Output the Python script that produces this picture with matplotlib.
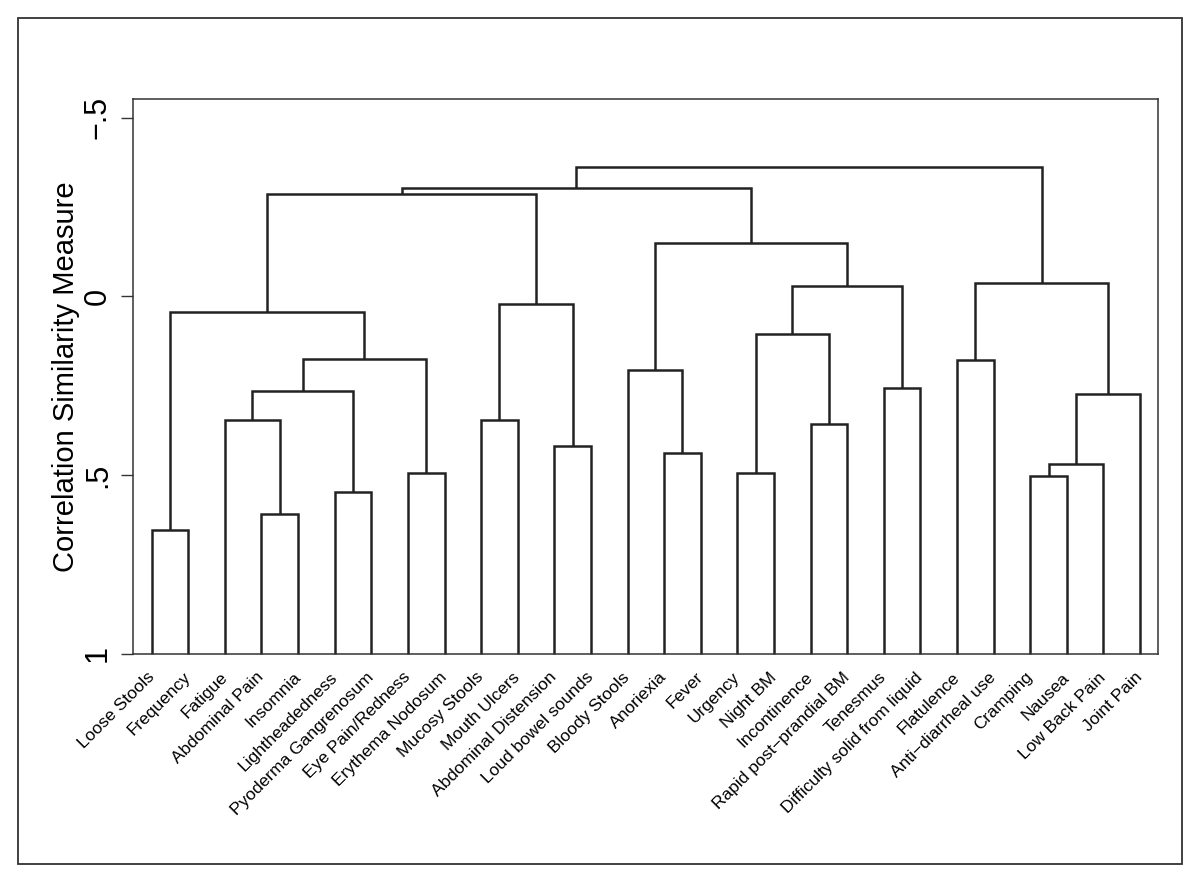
import numpy as np
import matplotlib
matplotlib.use("Agg")
import matplotlib.pyplot as plt
from matplotlib.patches import Rectangle

plt.rcParams['font.family'] = ['Liberation Sans', 'DejaVu Sans']

# leaves, in the order they appear on the axis
leaves = ["Loose Stools", "Frequency", "Fatigue", "Abdominal Pain", "Insomnia",
          "Lightheadedness", "Pyoderma Gangrenosum", "Eye Pain/Redness",
          "Erythema Nodosum", "Mucosy Stools", "Mouth Ulcers", "Abdominal Distension",
          "Loud bowel sounds", "Bloody Stools", "Anoriexia", "Fever", "Urgency",
          "Night BM", "Incontinence", "Rapid post\u2212prandial BM", "Tenesmus",
          "Difficulty solid from liquid", "Flatulence", "Anti\u2212diarrheal use",
          "Cramping", "Nausea", "Low Back Pain", "Joint Pain"]

# merges: (node a, node b, similarity height); new node ids start at len(leaves)
merge_a = [0, 3, 2, 5, 30, 7, 32, 28, 9, 11, 36, 35, 14, 13, 16, 18, 42, 20, 44, 41, 39,
           22, 24, 50, 51, 49, 48]
merge_b = [1, 4, 29, 6, 31, 8, 33, 34, 10, 12, 37, 38, 15, 40, 17, 19, 43, 21, 45, 46, 47,
           23, 25, 26, 27, 52, 53]
merge_h = [0.653, 0.608, 0.345, 0.548, 0.264, 0.494, 0.176, 0.043, 0.345, 0.417, 0.022,
           -0.285, 0.438, 0.205, 0.494, 0.358, 0.105, 0.257, -0.029, -0.148, -0.304,
           0.177, 0.503, 0.469, 0.272, -0.038, -0.363]

ytick_vals = [1, 0.5, 0, -0.5]
ytick_labels = ["1", ".5", "0", "\u2212.5"]

fig = plt.figure(figsize=(12, 8.81), dpi=100)
ax = fig.add_axes([133 / 1200, 1 - 654 / 881, (1158 - 133) / 1200, (654 - 99) / 881])

node_x = {i: float(i) for i in range(len(leaves))}
node_y = {i: 1.0 for i in range(len(leaves))}
lc = "#222222"
for k, (a, b, h) in enumerate(zip(merge_a, merge_b, merge_h)):
    xa, xb = node_x[a], node_x[b]
    ax.plot([xa, xa, xb, xb], [node_y[a], h, h, node_y[b]], color=lc, lw=1.8,
            solid_joinstyle="miter", solid_capstyle="butt", clip_on=False)
    nid = len(leaves) + k
    node_x[nid] = (xa + xb) / 2
    node_y[nid] = h

ax.set_xlim(-0.51, 27.49)
ax.set_ylim(1.0, -0.552)

ax.set_yticks(ytick_vals)
ax.set_yticklabels(ytick_labels, rotation=90, va="center", fontsize=22)
ax.tick_params(axis="y", length=8.5, width=1.0, pad=6, color="#333333")

ax.set_xticks(range(len(leaves)))
ax.set_xticklabels(leaves, rotation=45, ha="right", va="center",
                   rotation_mode="anchor", fontsize=12.5)
ax.tick_params(axis="x", length=0, pad=15)

ax.set_ylabel("Correlation Similarity Measure", fontsize=21)
ax.yaxis.set_label_coords(-0.052, 0.5)

for sp in ax.spines.values():
    sp.set_linewidth(1.1)
    sp.set_color("#333333")

fig.patches.append(Rectangle((18 / 1200, 1 - 864 / 881), (1182 - 18) / 1200,
                             (864 - 18) / 881, transform=fig.transFigure,
                             fill=False, edgecolor="#333333", lw=1.3))

fig.savefig("out.png", dpi=100)
